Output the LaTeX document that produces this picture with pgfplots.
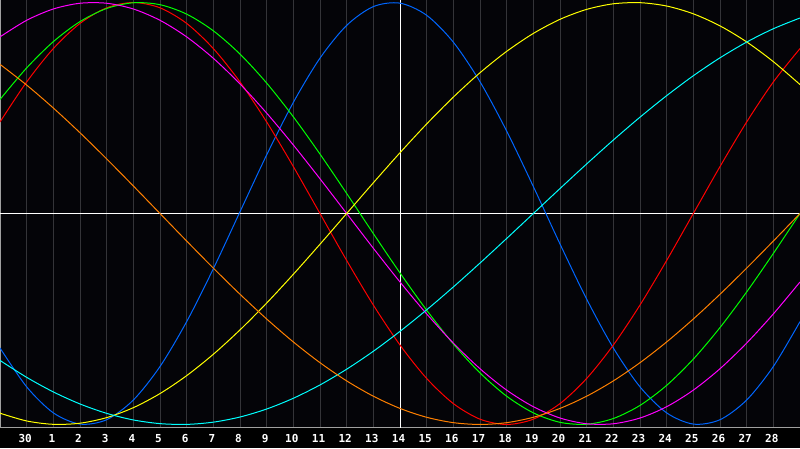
\documentclass[border=0pt]{standalone}
\usepackage{fontspec}
\usepackage{pgfplots}
\usepackage{pgfplotstable}
\pgfplotsset{compat=1.18}
\setmonofont{DejaVu Sans Mono}
\definecolor{bgc}{RGB}{4,4,8}
\definecolor{gridc}{RGB}{52,52,56}
\definecolor{framec}{RGB}{160,160,160}
\definecolor{blueC}{RGB}{0,102,255}
\definecolor{redC}{RGB}{255,0,0}
\definecolor{greenC}{RGB}{0,255,0}
\definecolor{magC}{RGB}{255,0,255}
\definecolor{yelC}{RGB}{255,255,0}
\definecolor{cyanC}{RGB}{0,255,255}
\definecolor{orC}{RGB}{255,128,0}
\pgfplotstableread{
t blue red green magenta yellow cyan orange
0 -0.6374 0.4339 0.5406 0.8372 -0.9465 -0.6965 0.7071
1 -0.8216 0.6235 0.6901 0.9158 -0.9834 -0.7766 0.6088
2 -0.9449 0.7818 0.8146 0.9694 -0.9993 -0.8457 0.5
3 -0.9982 0.9010 0.9096 0.9966 -0.9940 -0.9028 0.3827
4 -0.9774 0.9749 0.9718 0.9966 -0.9675 -0.9473 0.2588
5 -0.8841 1.0 0.9989 0.9694 -0.9204 -0.9786 0.1305
6 -0.7253 0.9749 0.9898 0.9158 -0.8535 -0.9960 0
7 -0.5125 0.9010 0.9450 0.8372 -0.7685 -0.9996 -0.1305
8 -0.2619 0.7818 0.8660 0.7357 -0.6672 -0.9890 -0.2588
9 0.0082 0.6235 0.7557 0.6142 -0.5517 -0.9646 -0.3827
10 0.2777 0.4339 0.6182 0.4759 -0.4245 -0.9267 -0.5
11 0.5266 0.2225 0.4582 0.3247 -0.2881 -0.8758 -0.6088
12 0.7364 0 0.2817 0.1646 -0.1456 -0.8126 -0.7071
13 0.8916 -0.2225 0.0951 0 0 -0.7380 -0.7934
14 0.9807 -0.4339 -0.0951 -0.1646 0.1456 -0.6530 -0.8660
15 0.9971 -0.6235 -0.2817 -0.3247 0.2881 -0.5586 -0.9239
16 0.9395 -0.7818 -0.4582 -0.4759 0.4245 -0.4566 -0.9659
17 0.8121 -0.9010 -0.6182 -0.6142 0.5517 -0.3482 -0.9914
18 0.6246 -0.9749 -0.7557 -0.7357 0.6672 -0.2349 -1.0
19 0.3907 -1.0 -0.8660 -0.8372 0.7685 -0.1183 -0.9914
20 0.1279 -0.9749 -0.9450 -0.9158 0.8535 0 -0.9659
21 -0.1444 -0.9010 -0.9898 -0.9694 0.9204 0.1183 -0.9239
22 -0.4059 -0.7818 -0.9989 -0.9966 0.9675 0.2349 -0.8660
23 -0.6374 -0.6235 -0.9718 -0.9966 0.9940 0.3482 -0.7934
24 -0.8217 -0.4339 -0.9096 -0.9694 0.9993 0.4566 -0.7071
25 -0.9450 -0.2225 -0.8146 -0.9158 0.9834 0.5586 -0.6088
26 -0.9982 0 -0.6901 -0.8372 0.9465 0.6530 -0.5
27 -0.9774 0.2225 -0.5406 -0.7357 0.8893 0.7380 -0.3827
28 -0.8840 0.4339 -0.3717 -0.6142 0.8133 0.8126 -0.2588
29 -0.7252 0.6235 -0.1893 -0.4759 0.7198 0.8758 -0.1305
30 -0.5125 0.7818 0 -0.3247 0.6112 0.9267 0
}\bio
\begin{document}
\begin{tikzpicture}
\path[use as bounding box] (0pt,0pt) rectangle (800pt,448pt);
\fill[black] (0pt,0pt) rectangle (800pt,448pt);
\begin{axis}[
  at={(0pt,21pt)}, anchor=south west,
  scale only axis, width=800pt, height=427pt,
  xmin=0, xmax=30, ymin=-1.012, ymax=1.012,
  axis background/.style={fill=bgc},
  axis line style={draw=framec, line width=1pt},
  xtick={1,...,29},
  xticklabels={30,1,2,3,4,5,6,7,8,9,10,11,12,13,14,15,16,17,18,19,20,21,22,23,24,25,26,27,28},
  ytick=\empty,
  major tick length=0pt,
  xmajorgrids, grid style={gridc, line width=1pt},
  xticklabel style={font=\ttfamily\bfseries\fontsize{11}{13}\selectfont, text=white, yshift=-4pt, xshift=-1.5pt},
  every axis plot/.append style={line width=1pt, no markers},
]
\addplot[white] coordinates {(15,-1.1) (15,1.1)};
\addplot[white] coordinates {(-1,0) (31,0)};
\addplot[blueC, smooth] table[x=t, y=blue] {\bio};
\addplot[redC, smooth] table[x=t, y=red] {\bio};
\addplot[greenC, smooth] table[x=t, y=green] {\bio};
\addplot[magC, smooth] table[x=t, y=magenta] {\bio};
\addplot[yelC, smooth] table[x=t, y=yellow] {\bio};
\addplot[cyanC, smooth] table[x=t, y=cyan] {\bio};
\addplot[orC, smooth] table[x=t, y=orange] {\bio};
\end{axis}
\end{tikzpicture}
\end{document}
